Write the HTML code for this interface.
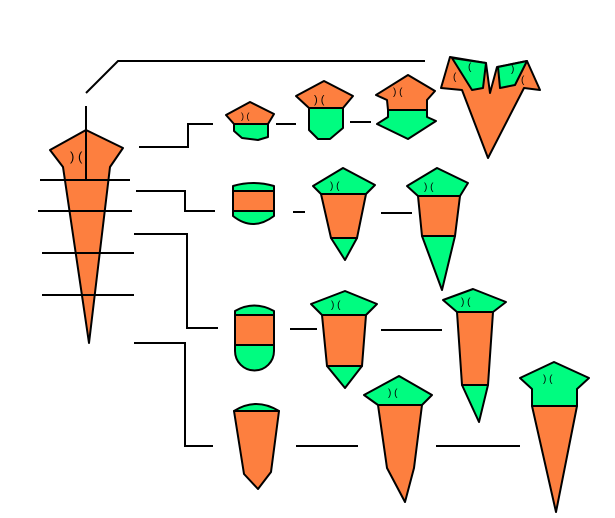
<!DOCTYPE html>
<html><head><meta charset="utf-8"><style>body{margin:0;background:#fff}svg{display:block}</style></head><body>
<svg width="615" height="518" viewBox="0 0 615 518" xmlns="http://www.w3.org/2000/svg">
<g stroke="#000" stroke-width="2" fill="none">
<polyline points="86,93 118,61 425,61"/>
<line x1="86" y1="106" x2="86" y2="130"/>
<polyline points="139,147 188,147 188,124 213,124"/>
<polyline points="136,191 185,191 185,211 215,211"/>
<polyline points="134,234 187,234 187,328 218,328"/>
<polyline points="134,343 185,343 185,446 213,446"/>
<line x1="276" y1="124" x2="296" y2="124"/>
<line x1="350" y1="122" x2="371" y2="122"/>
<line x1="293" y1="212" x2="305" y2="212"/>
<line x1="381" y1="213" x2="412" y2="213"/>
<line x1="290" y1="329" x2="317" y2="329"/>
<line x1="381" y1="330" x2="442" y2="330"/>
<line x1="296" y1="446" x2="358" y2="446"/>
<line x1="436" y1="446" x2="520" y2="446"/>
</g>
<g stroke="#000" stroke-width="2" stroke-linejoin="round">
<polygon fill="#fd7f3f" points="50,150 86,130 123,148 110,167 89,343 63,167"/>
<polygon fill="#00fc80" points="234,124 268,124 268,137 258,140 242,138 234,131"/>
<polygon fill="#fd7f3f" points="226,115 250,102 274,114 268,124 234,124"/>
<polygon fill="#00fc80" points="309,108 343,108 343,128 330,139 318,139 309,130"/>
<polygon fill="#fd7f3f" points="296,96 324,81 353,96 343,108 309,108"/>
<polygon fill="#00fc80" points="388,110 427,110 427,117 436,121 408,139 377,124 388,117"/>
<polygon fill="#fd7f3f" points="376,95 408,75 435,91 427,100 427,110 388,110 387,100"/>
<polygon fill="#fd7f3f" points="441,88 450,57 486,63 490,93 497,67 527,61 540,90 524,88 488,158 462,90"/>
<polygon fill="#00fc80" points="452,58 486,63 483,88 472,90"/>
<polygon fill="#00fc80" points="498,67 527,61 515,85 500,88"/>
<path fill="#00fc80" d="M233,191 L233,186 Q253,180 274,186 L274,191 Z"/>
<path fill="#00fc80" d="M233,211 L274,211 L274,216 Q253,232 233,216 Z"/>
<rect fill="#fd7f3f" x="233" y="191" width="41" height="20"/>
<polygon fill="#fd7f3f" points="321,194 366,194 357,238 331,238"/>
<polygon fill="#00fc80" points="331,238 357,238 345,260"/>
<polygon fill="#00fc80" points="313,186 343,168 375,185 366,194 321,194"/>
<polygon fill="#fd7f3f" points="418,196 460,196 455,236 422,236"/>
<polygon fill="#00fc80" points="422,236 455,236 442,290"/>
<polygon fill="#00fc80" points="407,186 437,168 468,183 460,196 418,196"/>
<path fill="#00fc80" d="M235,315 L235,311 Q254,300 274,311 L274,315 Z"/>
<rect fill="#fd7f3f" x="235" y="315" width="39" height="30"/>
<path fill="#00fc80" d="M235,345 L274,345 L274,351 A19.5,19.5 0 0 1 235,351 Z"/>
<polygon fill="#fd7f3f" points="322,315 366,315 362,366 327,366"/>
<polygon fill="#00fc80" points="327,366 362,366 345,388"/>
<polygon fill="#00fc80" points="311,304 345,291 377,304 366,315 322,315"/>
<polygon fill="#fd7f3f" points="457,312 493,312 488,385 462,385"/>
<polygon fill="#00fc80" points="462,385 488,385 479,422"/>
<polygon fill="#00fc80" points="443,300 473,289 506,302 493,312 457,312"/>
<path fill="#00fc80" d="M234,411 Q256,397 279,411 Z"/>
<polygon fill="#fd7f3f" points="234,411 279,411 271,472 258,489 244,474"/>
<polygon fill="#fd7f3f" points="378,405 422,405 414,468 405,502 387,468"/>
<polygon fill="#00fc80" points="364,395 399,376 432,395 422,405 378,405"/>
<polygon fill="#fd7f3f" points="532,406 577,406 556,512"/>
<polygon fill="#00fc80" points="520,378 554,362 589,378 577,389 577,406 532,406 532,389"/>
</g>
<g stroke="#000" stroke-width="2">
<line x1="40" y1="180" x2="130" y2="180"/>
<line x1="38" y1="211" x2="132" y2="211"/>
<line x1="42" y1="253" x2="134" y2="253"/>
<line x1="42" y1="295" x2="134" y2="295"/>
<line x1="86" y1="130" x2="86" y2="180"/>
</g>
<g font-family="Liberation Sans, sans-serif" font-size="11" fill="#000" style="white-space:pre">
<text x="70" y="161" font-size="13">)   (</text>
<text x="241" y="119" font-size="9">) (</text>
<text x="314" y="103" font-size="11">)  (</text>
<text x="393" y="95" font-size="10">) (</text>
<text x="330" y="189" font-size="10">)  (</text>
<text x="424" y="190" font-size="10">)  (</text>
<text x="331" y="308" font-size="10">)  (</text>
<text x="461" y="305" font-size="10">)  (</text>
<text x="388" y="396" font-size="10">)  (</text>
<text x="543" y="382" font-size="10">)  (</text>
<text x="453" y="80" font-size="10">(</text>
<text x="468" y="70" font-size="10">(</text>
<text x="511" y="72" font-size="10">)</text>
<text x="521" y="83" font-size="10">(</text>
</g>
</svg>
</body></html>
